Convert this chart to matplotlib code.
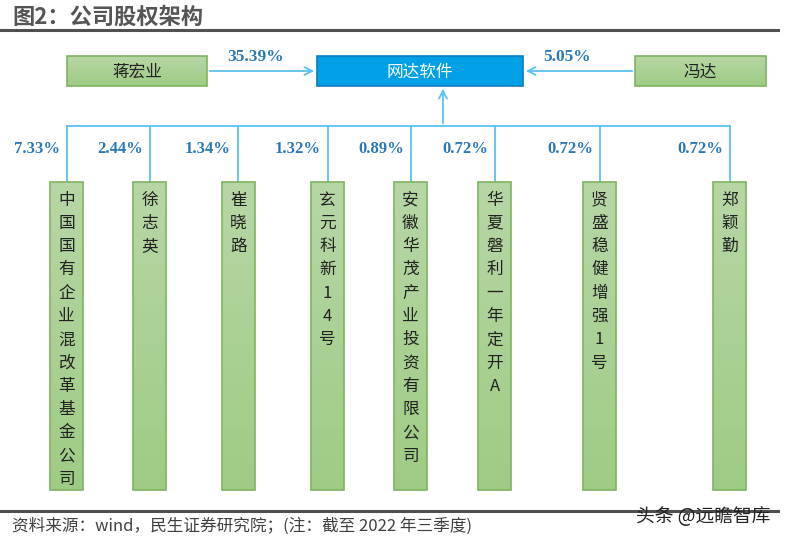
import matplotlib.pyplot as plt
import matplotlib.patches as patches
import numpy as np

plt.rcParams['font.family'] = ['Noto Sans CJK SC', 'DejaVu Sans']

# Data
title = "图2：公司股权架构"
company = "网达软件"
top_holders = ["蒋宏业", "冯达"]
top_pcts = ["35.39%", "5.05%"]
holders = ["中国国有企业混改革基金公司", "徐志英", "崔晓路", "玄元科新14号",
           "安徽华茂产业投资有限公司", "华夏磐利一年定开A", "贤盛稳健增强1号", "郑颖勤"]
pcts = ["7.33%", "2.44%", "1.34%", "1.32%", "0.89%", "0.72%", "0.72%", "0.72%"]
source = "资料来源：wind，民生证券研究院；(注：截至 2022 年三季度)"
watermark = "头条 @远瞻智库"

# Layout (pixel coords)
line_x = [67, 150, 238, 328, 411, 495, 600, 730]
box_x = [50, 133, 222, 311, 394, 478, 583, 713]
box_w = 33
box_top, box_bot = 182, 490
bus_y = 126

LINE = '#5ac2f0'
PCT = '#2a78b8'
GREEN_TOP = np.array([0.72, 0.84, 0.65])
GREEN_BOT = np.array([0.62, 0.80, 0.52])
GREEN_EDGE = '#7fb461'

fig = plt.figure(figsize=(7.85, 5.43), dpi=100)
ax = fig.add_axes([0, 0, 1, 1])
ax.set_xlim(0, 785)
ax.set_ylim(543, 0)
ax.axis('off')


def green_box(x, y, w, h):
    grad = np.linspace(0, 1, 64)[:, None, None]
    img = GREEN_TOP * (1 - grad) + GREEN_BOT * grad
    img = np.repeat(img, 2, axis=1)
    ax.imshow(img, extent=(x, x + w, y + h, y), aspect='auto', zorder=2, interpolation='bilinear')
    ax.add_patch(patches.Rectangle((x, y), w, h, fill=False, edgecolor=GREEN_EDGE, lw=1.2, zorder=3))


# title and rules
ax.text(12, 17, title, fontsize=16, fontweight='bold', color='#555555', va='center', ha='left')
ax.plot([0, 778], [30, 30], color='#505050', lw=2.2)
ax.plot([0, 778], [511, 511], color='#505050', lw=2.2)
ax.text(12, 526, source, fontsize=12, color='#404040', va='center', ha='left')
ax.text(770, 517, watermark, fontsize=13.5, color='#222222', va='center', ha='right')

# top row
green_box(67, 56, 140, 30)
ax.text(137, 72, top_holders[0], fontsize=12, color='#222222', ha='center', va='center', zorder=4)
green_box(635, 56, 131, 30)
ax.text(700, 72, top_holders[1], fontsize=12, color='#222222', ha='center', va='center', zorder=4)
ax.add_patch(patches.Rectangle((317, 56), 206, 30, facecolor='#00a0e6', edgecolor='#0a7cc0', lw=1.2, zorder=3))
ax.text(420, 72, company, fontsize=12, color='white', ha='center', va='center', zorder=4)

arrow = dict(arrowstyle='->', color=LINE, lw=1.3, mutation_scale=14)
ax.annotate('', xy=(317, 71), xytext=(207, 71), arrowprops=arrow)
ax.annotate('', xy=(523, 71), xytext=(635, 71), arrowprops=arrow)
ax.text(256, 57, top_pcts[0], fontsize=12.5, fontweight='bold', color=PCT, ha='center', va='center',
        family=['Liberation Serif', 'DejaVu Serif'])
ax.text(567, 57, top_pcts[1], fontsize=12.5, fontweight='bold', color=PCT, ha='center', va='center',
        family=['Liberation Serif', 'DejaVu Serif'])

# bus
ax.plot([line_x[0], line_x[-1]], [bus_y, bus_y], color=LINE, lw=1.3)
ax.annotate('', xy=(443, 86), xytext=(443, bus_y), arrowprops=arrow)

for lx, bx, name, pct in zip(line_x, box_x, holders, pcts):
    ax.plot([lx, lx], [bus_y, box_top], color=LINE, lw=1.3)
    green_box(bx, box_top, box_w, box_bot - box_top)
    for i, ch in enumerate(name):
        ax.text(bx + box_w / 2, box_top + 18 + i * 23.3, ch, fontsize=12, color='#222222',
                ha='center', va='center', zorder=4)
    ax.text(lx - 7, 149, pct, fontsize=12, fontweight='bold', color=PCT, ha='right', va='center',
            family=['Liberation Serif', 'DejaVu Serif'])

fig.savefig('out.png', dpi=100)
